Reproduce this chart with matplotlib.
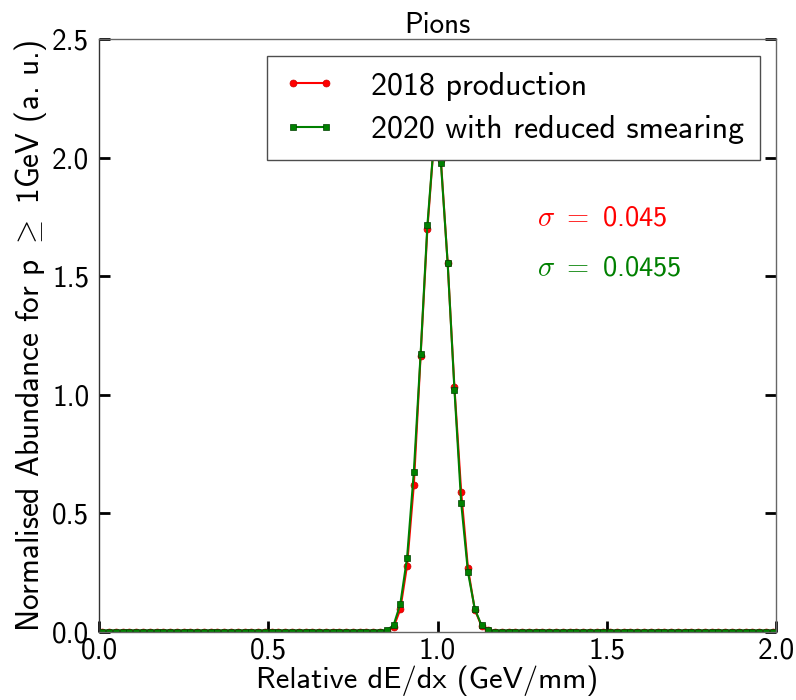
import numpy as np
import matplotlib
matplotlib.use('Agg')
import matplotlib.pyplot as plt

plt.rcParams['font.family'] = ['cmss10', 'DejaVu Sans']
plt.rcParams['mathtext.fontset'] = 'cm'
plt.rcParams['axes.unicode_minus'] = False
plt.rcParams['axes.formatter.use_mathtext'] = False

# bin centres of the histogram (0.02 wide bins over 0..2)
bin_centres = np.round(np.arange(0.01, 2.0, 0.02), 2)

# non-zero part of the distributions
peak_x = [0.83, 0.85, 0.87, 0.89, 0.91, 0.93, 0.95, 0.97, 0.99,
          1.01, 1.03, 1.05, 1.07, 1.09, 1.11, 1.13, 1.15, 1.17]
prod_2018 = [0.002, 0.006, 0.020, 0.096, 0.280, 0.620, 1.164, 1.698, 2.08,
             1.99, 1.555, 1.032, 0.589, 0.268, 0.095, 0.025, 0.007, 0.002]
prod_2020 = [0.002, 0.008, 0.028, 0.118, 0.313, 0.676, 1.172, 1.715, 2.08,
             1.98, 1.555, 1.021, 0.543, 0.252, 0.098, 0.028, 0.008, 0.002]

sigma_2018 = '0.045'
sigma_2020 = '0.0455'

y2018 = np.zeros(len(bin_centres))
y2020 = np.zeros(len(bin_centres))
for xv, a, b in zip(peak_x, prod_2018, prod_2020):
    i = int(np.argmin(np.abs(bin_centres - xv)))
    y2018[i] = a
    y2020[i] = b

fig = plt.figure(figsize=(7.96, 7.00), dpi=100)
ax = fig.add_axes([0.1244, 0.0971, 0.8505, 0.8468])

ax.plot(bin_centres, y2018, color='r', marker='o', markersize=5,
        markeredgecolor='#cc0000', markeredgewidth=0.5, linewidth=1.5,
        label='2018 production')
ax.plot(bin_centres, y2020, color='g', marker='s', markersize=5,
        markeredgecolor='#004000', markeredgewidth=0.5, linewidth=1.5,
        label='2020 with reduced smearing')

ax.set_xlim(0, 2)
ax.set_ylim(0, 2.5)
ax.set_xticks([0.0, 0.5, 1.0, 1.5, 2.0])
ax.set_yticks([0.0, 0.5, 1.0, 1.5, 2.0, 2.5])

for sp in ax.spines.values():
    sp.set_color('0.4')
    sp.set_linewidth(1.0)
ax.spines['left'].set_color('0.2')

ax.tick_params(axis='both', direction='in', length=8, width=2,
               color='black', labelsize=21)
ax.tick_params(axis='y', right=True, pad=7)
ax.tick_params(axis='x', top=False, pad=4)

ax.set_xlabel('Relative dE/dx (GeV/mm)', fontsize=22, labelpad=1)
ax.xaxis.label.set_x(0.485)
ax.set_ylabel(r'Normalised Abundance for p $\geq$ 1GeV (a. u.)', fontsize=22.5,
              labelpad=2)
ax.set_title('Pions', fontsize=21, pad=4)

ax.text(1.294, 1.746, r'$\sigma\ =\ $' + sigma_2018, color='r', fontsize=20.5,
        ha='left', va='center')
ax.text(1.294, 1.535, r'$\sigma\ =\ $' + sigma_2020, color='g', fontsize=20.5,
        ha='left', va='center')

leg = ax.legend(loc='upper right', bbox_to_anchor=(0.9764, 0.9723),
                borderaxespad=0, fontsize=23, numpoints=2, fancybox=False,
                framealpha=1, handlelength=1.65, handletextpad=1.1,
                borderpad=0.5, labelspacing=0.45)
leg.get_frame().set_edgecolor('0.3')
leg.get_frame().set_linewidth(1.0)

fig.savefig('out.png', dpi=100)
